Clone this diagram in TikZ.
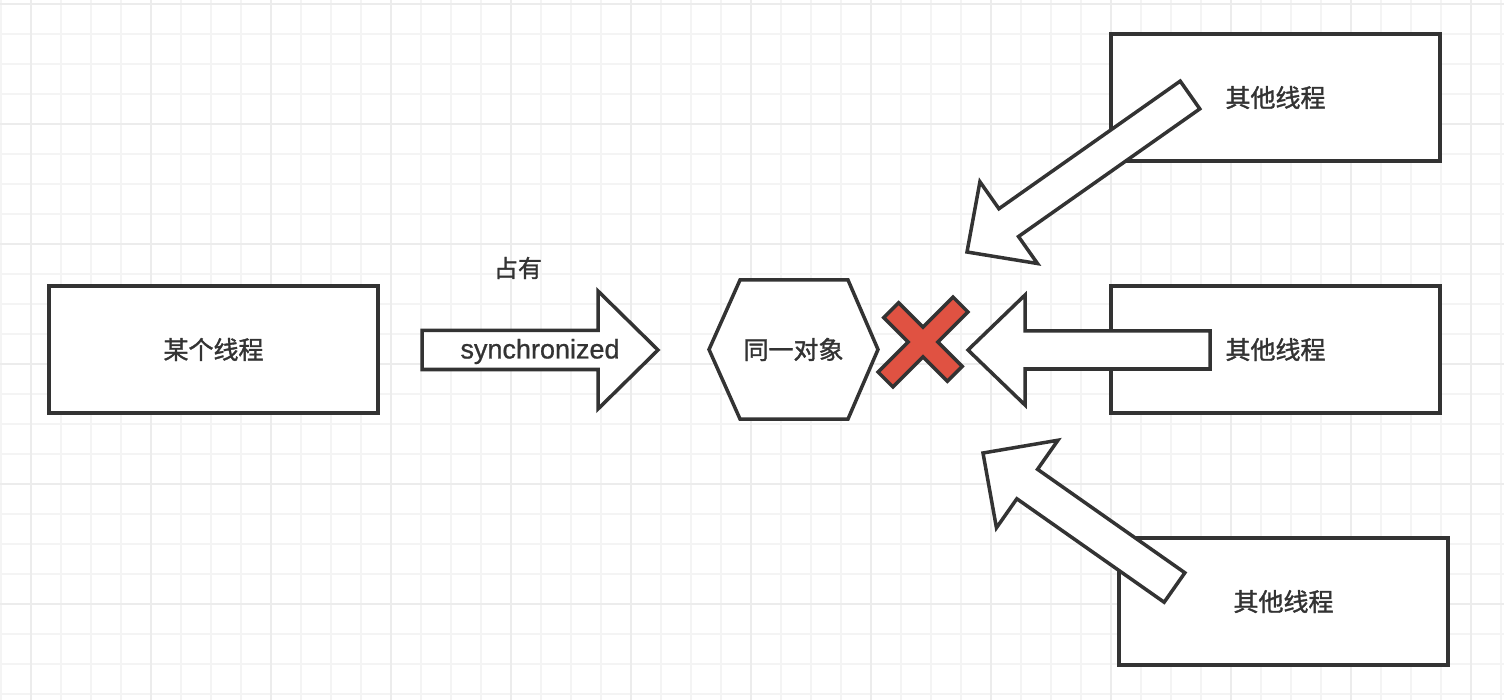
\documentclass[tikz,border=0pt]{standalone}
\usepackage{fontspec}
\setmainfont{Liberation Sans}[FakeBold=0.8]
\newfontfamily\cjk{Noto Sans CJK SC}[FakeBold=1.4]
\usetikzlibrary{calc,positioning}
\definecolor{lineclr}{HTML}{333333}
\definecolor{gridminor}{HTML}{F4F4F4}
\definecolor{gridmajor}{HTML}{ECECEC}
\definecolor{crossred}{HTML}{E05242}
\tikzset{
  thrbox/.style={draw=lineclr, line width=3.5pt, fill=white, minimum width=329pt, minimum height=127pt, inner sep=0pt, font=\cjk\fontsize{25}{30}\selectfont, text=lineclr},
  blockarr/.style={draw=lineclr, line width=3.5pt, fill=white, line join=miter},
  gridln/.style={draw=gridminor, line width=2pt},
  gridlnmaj/.style={draw=gridmajor, line width=2.5pt},
}
% tail, tip, shaft half width, head half width, head length
\newcommand{\blockarrow}[5]{%
  \coordinate (hb) at ($(#2)!#5!(#1)$);
  \draw[blockarr] ($(#1)!#3!90:(#2)$) -- ($(hb)!#3!90:(#2)$) -- ($(hb)!#4!90:(#2)$)
    -- (#2) -- ($(hb)!#4!-90:(#2)$) -- ($(hb)!#3!-90:(#2)$) -- ($(#1)!#3!-90:(#2)$) -- cycle;
}

\begin{document}
\begin{tikzpicture}[
  x=1pt, y=-1pt,
  lbl/.style={text=lineclr, inner sep=0pt},
]
  \fill[white] (0,0) rectangle (1504,700);
  \useasboundingbox (0,0) rectangle (1504,700);

  % grid
  \foreach \x in {1,31,...,1501} \draw[gridln] (\x,0) -- (\x,700);
  \foreach \y in {4,34,...,694} \draw[gridln] (0,\y) -- (1504,\y);
  \foreach \x in {31,151,...,1471} \draw[gridlnmaj] (\x,0) -- (\x,700);
  \foreach \y in {4,124,...,604} \draw[gridlnmaj] (0,\y) -- (1504,\y);

  % threads
  \node[thrbox] (owner) at (213.5,349.5) {某个线程};
  \node[thrbox] (other1) at (1275.5,97.5) {其他线程};
  \node[thrbox] (other2) at (1275.5,349.5) {其他线程};
  \node[thrbox] (other3) at (1283.5,601.5) {其他线程};

  % shared object
  \draw[draw=lineclr, line width=3.5pt, fill=white] (709,349.5) -- (740,280) -- (848,280)
    -- (878,349.5) -- (848,419) -- (740,419) -- cycle;
  \node[lbl, font=\cjk\fontsize{25}{30}\selectfont] (obj) at (793.5,349.5) {同一对象};

  % synchronized arrow
  \coordinate (syncA) at (422,350);
  \coordinate (syncB) at (658,350);
  \blockarrow{syncA}{syncB}{19.5pt}{59pt}{60pt}
  \node[lbl, font=\fontsize{27}{32}\selectfont] (synclbl) at (540,351.5) {synchronized};
  \node[lbl, font=\cjk\fontsize{24}{30}\selectfont] (hold) at (518,268) {占有};

  % blocked arrows
  \coordinate (blk1A) at (1190,95);
  \coordinate (blk1B) at (967,252);
  \blockarrow{blk1A}{blk1B}{17pt}{50pt}{51pt}
  \coordinate (blk2A) at (1210,350);
  \coordinate (blk2B) at (968,350);
  \blockarrow{blk2A}{blk2B}{19pt}{55pt}{57pt}
  \coordinate (blk3A) at (1174.5,587.5);
  \coordinate (blk3B) at (983,453);
  \blockarrow{blk3A}{blk3B}{18pt}{53.5pt}{54pt}

  % red cross
  \coordinate (xmark) at (923,342);
  \begin{scope}[shift={(xmark)}]
    \draw[draw=lineclr, line width=3.5pt, fill=crossred, line join=miter]
      (0,-14.85) -- (30.1,-44.9) -- (44.9,-30.1) -- (14.85,0) -- (39.2,24.4) -- (24.4,39.2)
      -- (0,14.85) -- (-30.1,44.9) -- (-44.9,30.1) -- (-14.85,0) -- (-39.2,-24.4) -- (-24.4,-39.2) -- cycle;
  \end{scope}
\end{tikzpicture}
\end{document}
